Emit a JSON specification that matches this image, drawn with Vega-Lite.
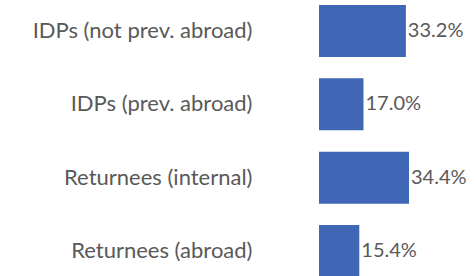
{
  "$schema": "https://vega.github.io/schema/vega-lite/v6.json",
  "autosize": {"type": "none"},
  "padding": {"left": 319, "top": 5, "right": 0, "bottom": 0},
  "width": 157,
  "height": 272,
  "background": "white",
  "config": {"view": {"stroke": null}},
  "data": {
    "values": [
      {"group": "IDPs (not prev. abroad)", "value": 0.332},
      {"group": "IDPs (prev. abroad)", "value": 0.170},
      {"group": "Returnees (internal)", "value": 0.344},
      {"group": "Returnees (abroad)", "value": 0.154}
    ]
  },
  "encoding": {
    "y": {
      "field": "group",
      "type": "nominal",
      "sort": null,
      "scale": {"paddingInner": 0.29, "paddingOuter": 0},
      "axis": {
        "title": null,
        "domain": false,
        "ticks": false,
        "labelPadding": 67,
        "labelFont": "Lato",
        "labelFontSize": 22,
        "labelColor": "#595959",
        "labelLimit": 320
      }
    },
    "x": {
      "field": "value",
      "type": "quantitative",
      "scale": {"domain": [0, 0.6]},
      "axis": null
    }
  },
  "layer": [
    {"mark": {"type": "bar", "color": "#4066B6"}},
    {
      "mark": {"type": "text", "align": "left", "dx": 2, "font": "Lato", "fontSize": 20, "color": "#595959"},
      "encoding": {"text": {"field": "value", "type": "quantitative", "format": ".1%"}}
    }
  ]
}
